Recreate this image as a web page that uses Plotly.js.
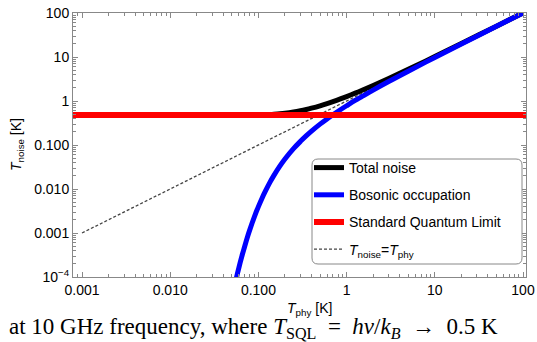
<!DOCTYPE html>
<html>
<head>
<meta charset="utf-8">
<script src="https://cdn.plot.ly/plotly-3.0.1.min.js"></script>
<style>html,body{margin:0;padding:0;background:#fff;}#chart{width:537px;height:342px;}</style>
</head>
<body>
<div id="chart"></div>
<script>
// Physical temperature samples [K]
const tBoson = [0.055, 0.058, 0.062, 0.066, 0.07, 0.075, 0.08, 0.09, 0.1, 0.11, 0.12, 0.135, 0.15, 0.175, 0.2, 0.25, 0.3, 0.35, 0.4, 0.5, 0.6, 0.7, 0.85, 1, 1.25, 1.5, 2, 3, 5, 10, 20, 50, 100];
// Bosonic occupation noise temperature [K]
const bosonic = [7.8e-5, 1.22e-4, 2.09e-4, 3.33e-4, 5.0e-4, 8.0e-4, 1.19e-3, 2.33e-3, 3.98e-3, 6.19e-3, 8.9e-3, 0.0141, 0.0204, 0.033, 0.048, 0.0825, 0.121, 0.163, 0.207, 0.298, 0.392, 0.487, 0.633, 0.78, 1.03, 1.27, 1.77, 2.77, 4.76, 9.76, 19.76, 49.76, 99.76];
// Total noise temperature [K]
const tTotal = [0.001, 0.01, 0.03, 0.05, 0.07, 0.09, 0.11, 0.135, 0.15, 0.175, 0.2, 0.25, 0.3, 0.35, 0.4, 0.5, 0.6, 0.7, 0.85, 1, 1.25, 1.5, 2, 3, 5, 10, 20, 50, 100];
const total = [0.48, 0.48, 0.48, 0.48, 0.4805, 0.4823, 0.4862, 0.4941, 0.5004, 0.513, 0.528, 0.5625, 0.601, 0.643, 0.687, 0.778, 0.872, 0.967, 1.113, 1.26, 1.506, 1.753, 2.25, 3.246, 5.24, 10.24, 20.24, 50.24, 100.24];
// Standard quantum limit
const tSQL = [0.0007, 120];
const sql = [0.48, 0.48];
// T_noise = T_phy reference
const tRef = [0.001, 100];
const ref = [0.001, 100];
// Ticks
const xTickVals = [0.001, 0.01, 0.1, 1, 10, 100];
const xTickText = ['0.001', '0.010', '0.100', '1', '10', '100'];
const yTickVals = [0.0001, 0.001, 0.01, 0.1, 1, 10, 100];
const yTickText = ['10<sup>−4</sup>', '0.001', '0.010', '0.100', '1', '10', '100'];

const W = 537, H = 342, L = 73, R = 11, T = 13, B = 65;
const pw = W - L - R, ph = H - T - B;
const px = v => (v - L) / pw;
const py = v => (H - B - v) / ph;

const traces = [
  {x: tRef, y: ref, mode: 'lines', name: '<i>T</i><sub>noise</sub>=<i>T</i><sub>phy</sub>', legendgroup: 'd', legendrank: 4,
   line: {color: '#444', width: 1.3, dash: '3px,2px'}},
  {x: tTotal, y: total, mode: 'lines', name: 'Total noise', legendgroup: 'a', legendrank: 1,
   line: {color: '#000', width: 5, shape: 'spline', smoothing: 1}},
  {x: tBoson, y: bosonic, mode: 'lines', name: 'Bosonic occupation', legendgroup: 'b', legendrank: 2,
   line: {color: '#0000ff', width: 5, shape: 'spline', smoothing: 1}},
  {x: tSQL, y: sql, mode: 'lines', name: 'Standard Quantum Limit', legendgroup: 'c', legendrank: 3,
   line: {color: '#ff0000', width: 6}}
];

const axisCommon = {
  type: 'log', showgrid: false, zeroline: false, showline: true, linecolor: '#888', linewidth: 1,
  mirror: 'allticks', ticks: 'inside', ticklen: 5, tickcolor: '#888', tickmode: 'array',
  tickfont: {family: 'Liberation Sans, Arial, sans-serif', size: 14, color: '#000'},
  minor: {ticks: 'inside', ticklen: 3, tickcolor: '#888', dtick: 'D1'}
};

const lx0 = 312, lx1 = 522, ly0 = 159, ly1 = 264, r = 6;
const rx = r / pw, ry = r / ph;
const a = px(lx0), b = px(lx1), c = py(ly0), d = py(ly1);
const path = `M ${a+rx} ${c} L ${b-rx} ${c} Q ${b} ${c} ${b} ${c-ry} L ${b} ${d+ry} Q ${b} ${d} ${b-rx} ${d} L ${a+rx} ${d} Q ${a} ${d} ${a} ${d+ry} L ${a} ${c-ry} Q ${a} ${c} ${a+rx} ${c} Z`;

const sp = '\u2002';
const layout = {
  width: W, height: H,
  margin: {l: L, r: R, t: T, b: B},
  paper_bgcolor: '#fff', plot_bgcolor: '#fff',
  font: {family: 'Liberation Sans, Arial, sans-serif', color: '#000'},
  xaxis: Object.assign({}, axisCommon, {range: [Math.log10(0.001) - 0.102, 2.034], tickvals: xTickVals, ticktext: xTickText}),
  yaxis: Object.assign({}, axisCommon, {range: [-4, 2], tickvals: yTickVals, ticktext: yTickText}),
  showlegend: true,
  legend: {x: px(lx0 - 3), y: py(ly0 - 7), xanchor: 'left', yanchor: 'top', bgcolor: 'rgba(0,0,0,0)',
    borderwidth: 0, tracegroupgap: 6, traceorder: 'grouped',
    font: {family: 'Liberation Sans, Arial, sans-serif', size: 14, color: '#000'}},
  shapes: [{type: 'path', xref: 'paper', yref: 'paper', path: path, line: {color: '#888', width: 1}, fillcolor: '#fff', layer: 'above'}],
  annotations: [
    {xref: 'paper', yref: 'paper', x: px(17), y: 0.5, xanchor: 'center', yanchor: 'middle', textangle: -90,
     text: '<i>T</i><sub>noise</sub> [K]', showarrow: false, font: {size: 14, family: 'Liberation Sans, Arial, sans-serif'}},
    {xref: 'paper', yref: 'paper', x: px(309), y: py(309), xanchor: 'center', yanchor: 'middle',
     text: '<i>T</i><sub>phy</sub> [K]', showarrow: false, font: {size: 14, family: 'Liberation Sans, Arial, sans-serif'}},
    {xref: 'paper', yref: 'paper', x: px(7), y: py(328), xanchor: 'left', yanchor: 'middle',
     text: 'at 10 GHz frequency, where <i>T</i><sub>SQL</sub>' + sp + '=' + sp + '<i>hν</i>/<i>k<sub>B</sub></i>' + sp + '→' + sp + '0.5 K', showarrow: false,
     font: {size: 23, family: 'Liberation Serif, DejaVu Serif, serif'}}
  ]
};

Plotly.newPlot('chart', traces, layout, {displayModeBar: false, staticPlot: true});
</script>
</body>
</html>
